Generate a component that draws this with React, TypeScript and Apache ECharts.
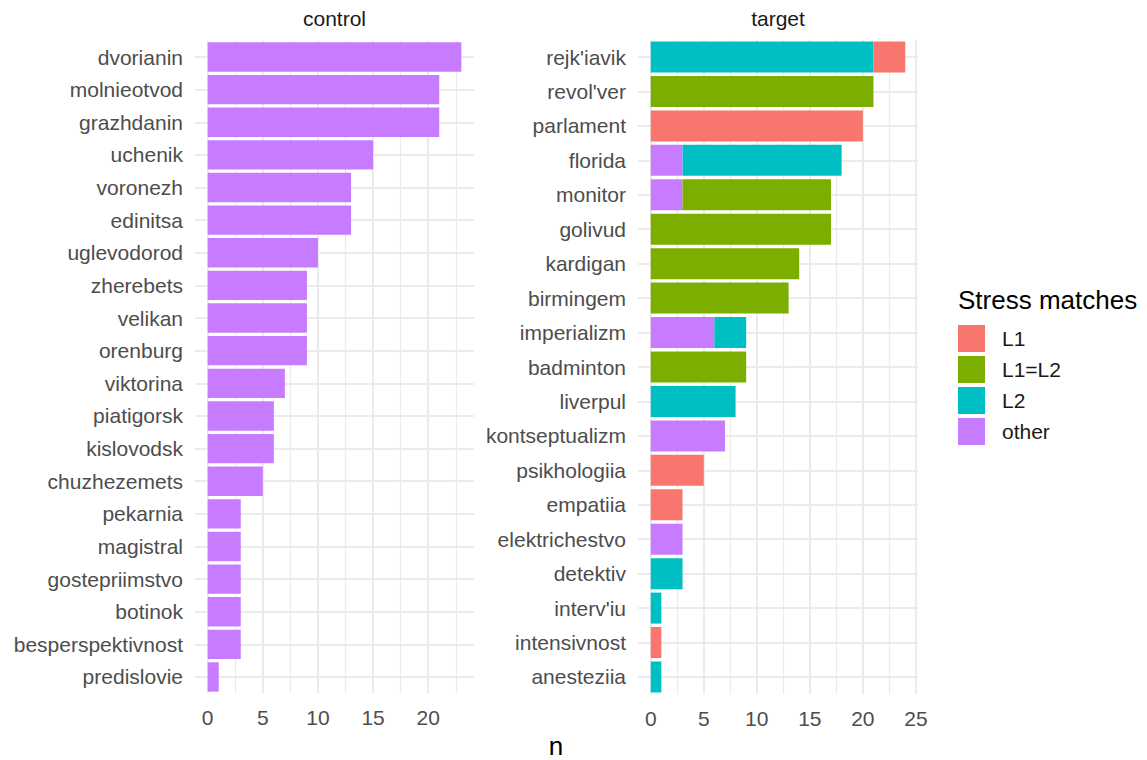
import React, { useEffect, useRef } from "react";
import * as echarts from "echarts";

const controlWords = [
  "dvorianin", "molnieotvod", "grazhdanin", "uchenik", "voronezh", "edinitsa",
  "uglevodorod", "zherebets", "velikan", "orenburg", "viktorina", "piatigorsk",
  "kislovodsk", "chuzhezemets", "pekarnia", "magistral", "gostepriimstvo",
  "botinok", "besperspektivnost", "predislovie",
];
const controlOther = [23, 21, 21, 15, 13, 13, 10, 9, 9, 9, 7, 6, 6, 5, 3, 3, 3, 3, 3, 1];

const targetWords = [
  "rejk'iavik", "revol'ver", "parlament", "florida", "monitor", "golivud",
  "kardigan", "birmingem", "imperializm", "badminton", "liverpul",
  "kontseptualizm", "psikhologiia", "empatiia", "elektrichestvo", "detektiv",
  "interv'iu", "intensivnost", "anesteziia",
];
const targetOther = [0, 0, 0, 3, 3, 0, 0, 0, 6, 0, 0, 7, 0, 0, 3, 0, 0, 0, 0];
const targetL2 = [21, 0, 0, 15, 0, 0, 0, 0, 3, 0, 8, 0, 0, 0, 0, 3, 1, 0, 1];
const targetL1eqL2 = [0, 21, 0, 0, 14, 17, 14, 13, 0, 9, 0, 0, 0, 0, 0, 0, 0, 0, 0];
const targetL1 = [3, 0, 20, 0, 0, 0, 0, 0, 0, 0, 0, 0, 5, 3, 0, 0, 0, 1, 0];

const legendOrder = ["L1", "L1=L2", "L2", "other"];
const colors: Record<string, string> = {
  L1: "#F8766D",
  "L1=L2": "#7CAE00",
  L2: "#00BFC4",
  other: "#C77CFF",
};

const FONT = "'Liberation Sans', Arial, sans-serif";
const nz = (a: number[]) => a.map((v) => (v === 0 ? null : v));

function xAxisCfg(gridIndex: number, min: number, max: number) {
  return {
    type: "value" as const,
    gridIndex,
    min,
    max,
    splitNumber: 5,
    axisLine: { show: false },
    axisTick: { show: false },
    axisLabel: {
      color: "#4D4D4D",
      fontSize: 21,
      fontFamily: FONT,
      margin: 14,
      showMinLabel: false,
      showMaxLabel: true,
      hideOverlap: false,
      formatter: (v: number) => (Math.abs(v % 5) < 1e-9 ? String(v) : ""),
    },
    splitLine: {
      show: true,
      showMinLine: false,
      showMaxLine: false,
      lineStyle: { color: "#EBEBEB", width: 2 },
    },
    minorTick: { show: false, splitNumber: 2 },
    minorSplitLine: { show: true, lineStyle: { color: "#EBEBEB", width: 1.2 } },
  };
}

function yAxisCfg(gridIndex: number, data: string[]) {
  return {
    type: "category" as const,
    gridIndex,
    data,
    inverse: true,
    axisLine: { show: false },
    axisTick: { show: false, alignWithLabel: true },
    axisLabel: {
      color: "#4D4D4D",
      fontSize: 21,
      fontFamily: FONT,
      margin: 12,
      interval: 0,
    },
    splitLine: {
      show: true,
      alignWithLabel: true,
      lineStyle: { color: "#EBEBEB", width: 2 },
    },
  };
}

export default function App() {
  const ref = useRef<HTMLDivElement>(null);
  useEffect(() => {
    if (!ref.current) return;
    const chart = echarts.init(ref.current, undefined, { renderer: "svg" });
    const targetSeriesDefs: [string, number[]][] = [
      ["other", targetOther],
      ["L2", targetL2],
      ["L1=L2", targetL1eqL2],
      ["L1", targetL1],
    ];
    chart.setOption({
      animation: false,
      backgroundColor: "#FFFFFF",
      textStyle: { fontFamily: FONT },
      grid: [
        { left: 195, top: 40.7, width: 279, height: 652.6, containLabel: false },
        { left: 638, top: 39.8, width: 280, height: 654.4, containLabel: false },
      ],
      xAxis: [xAxisCfg(0, -1.15, 24.15), xAxisCfg(1, -1.2, 25.2)],
      yAxis: [yAxisCfg(0, controlWords), yAxisCfg(1, targetWords)],
      legend: {
        orient: "vertical",
        left: 958,
        top: 325,
        padding: 0,
        itemWidth: 27,
        itemHeight: 27,
        itemGap: 4,
        icon: "rect",
        data: legendOrder,
        textStyle: {
          fontSize: 21,
          color: "#1A1A1A",
          fontFamily: FONT,
          padding: [0, 0, 0, 12],
        },
      },
      graphic: [
        {
          type: "text",
          x: 334.5,
          y: 18,
          style: {
            text: "control",
            fill: "#1A1A1A",
            fontSize: 21,
            fontFamily: FONT,
            textAlign: "center",
            textVerticalAlign: "middle",
          },
        },
        {
          type: "text",
          x: 778,
          y: 18,
          style: {
            text: "target",
            fill: "#1A1A1A",
            fontSize: 21,
            fontFamily: FONT,
            textAlign: "center",
            textVerticalAlign: "middle",
          },
        },
        {
          type: "text",
          x: 556,
          y: 746,
          style: {
            text: "n",
            fill: "#000000",
            fontSize: 26,
            fontFamily: FONT,
            textAlign: "center",
            textVerticalAlign: "middle",
          },
        },
        {
          type: "text",
          x: 958,
          y: 300,
          style: {
            text: "Stress matches",
            fill: "#000000",
            fontSize: 26,
            fontFamily: FONT,
            textAlign: "left",
            textVerticalAlign: "middle",
          },
        },
      ],
      series: [
        {
          name: "other",
          type: "bar",
          xAxisIndex: 0,
          yAxisIndex: 0,
          data: nz(controlOther),
          barCategoryGap: "10%",
          itemStyle: { color: colors.other },
        },
        ...targetSeriesDefs.map(([name, vals]) => ({
          name,
          type: "bar",
          xAxisIndex: 1,
          yAxisIndex: 1,
          stack: "target",
          data: nz(vals),
          barCategoryGap: "10%",
          itemStyle: { color: colors[name] },
        })),
      ],
    });
    return () => chart.dispose();
  }, []);
  return (
    <div
      ref={ref}
      style={{ position: "fixed", left: 0, top: 0, width: 1147, height: 760 }}
    />
  );
}
